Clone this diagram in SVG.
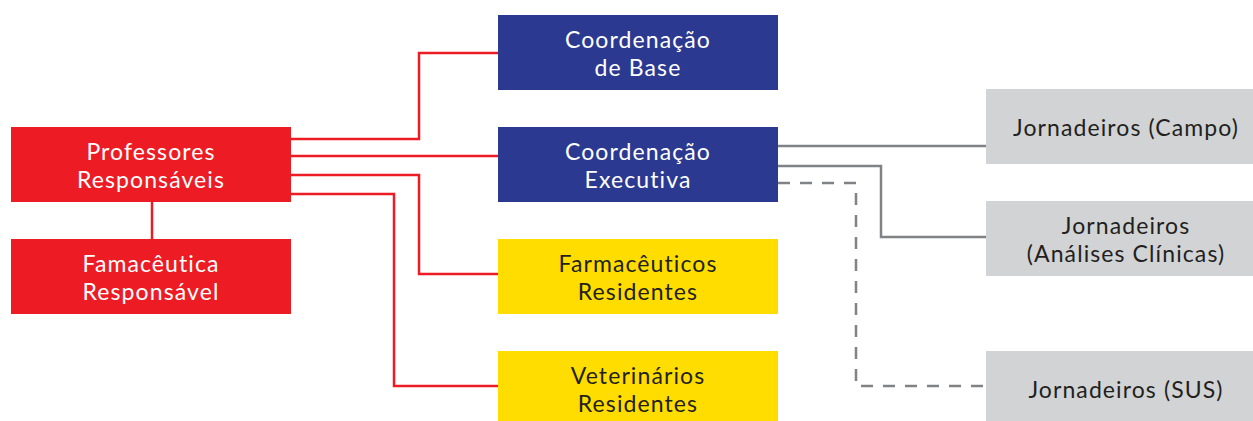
<svg xmlns="http://www.w3.org/2000/svg" width="1253" height="421" viewBox="0 0 1253 421">
<style>
.red{fill:#ED1C24}.blue{fill:#2B3990}.yel{fill:#FFDD00}.gry{fill:#D1D3D4}
text{font-family:Lato,"Open Sans",sans-serif;font-size:23px;letter-spacing:1.1px;text-anchor:middle}
.w{fill:#FFFFFF}.d{fill:#231F20}
.rl{fill:none;stroke:#ED1C24;stroke-width:2.5}
.gl{fill:none;stroke:#808285;stroke-width:2.5}
.dl{fill:none;stroke:#808285;stroke-width:2.5;stroke-dasharray:12 10}
</style>
<rect width="1253" height="421" fill="#FFFFFF"/>
<g id="connectors">
<path class="rl" d="M152 202V239"/>
<path class="rl" d="M291 139H419V53H498"/>
<path class="rl" d="M291 156H498"/>
<path class="rl" d="M291 175H419V274H498"/>
<path class="rl" d="M291 194H394V386H498"/>
<path class="gl" d="M778 146H986"/>
<path class="gl" d="M778 166H881V237H986"/>
<path class="dl" d="M778 183H856V386H986"/>
</g>
<g id="professores"><rect class="red" x="11" y="127" width="280" height="75"/><text class="w" x="151" y="160">Professores</text><text class="w" x="151" y="188">Responsáveis</text></g>
<g id="famaceutica"><rect class="red" x="11" y="239" width="280" height="75"/><text class="w" x="151" y="272">Famacêutica</text><text class="w" x="151" y="300">Responsável</text></g>
<g id="coord-base"><rect class="blue" x="498" y="15" width="280" height="75"/><text class="w" x="638" y="48">Coordenação</text><text class="w" x="638" y="76">de Base</text></g>
<g id="coord-exec"><rect class="blue" x="498" y="127" width="280" height="75"/><text class="w" x="638" y="160">Coordenação</text><text class="w" x="638" y="188">Executiva</text></g>
<g id="farmaceuticos"><rect class="yel" x="498" y="239" width="280" height="75"/><text class="d" x="638" y="272">Farmacêuticos</text><text class="d" x="638" y="300">Residentes</text></g>
<g id="veterinarios"><rect class="yel" x="498" y="351" width="280" height="70"/><text class="d" x="638" y="384">Veterinários</text><text class="d" x="638" y="412">Residentes</text></g>
<g id="campo"><rect class="gry" x="986" y="89" width="267" height="75"/><text class="d" x="1126" y="136">Jornadeiros (Campo)</text></g>
<g id="analises"><rect class="gry" x="986" y="201" width="267" height="75"/><text class="d" x="1126" y="234">Jornadeiros</text><text class="d" x="1126" y="262">(Análises Clínicas)</text></g>
<g id="sus"><rect class="gry" x="986" y="351" width="267" height="70"/><text class="d" x="1126" y="398">Jornadeiros (SUS)</text></g>
</svg>
